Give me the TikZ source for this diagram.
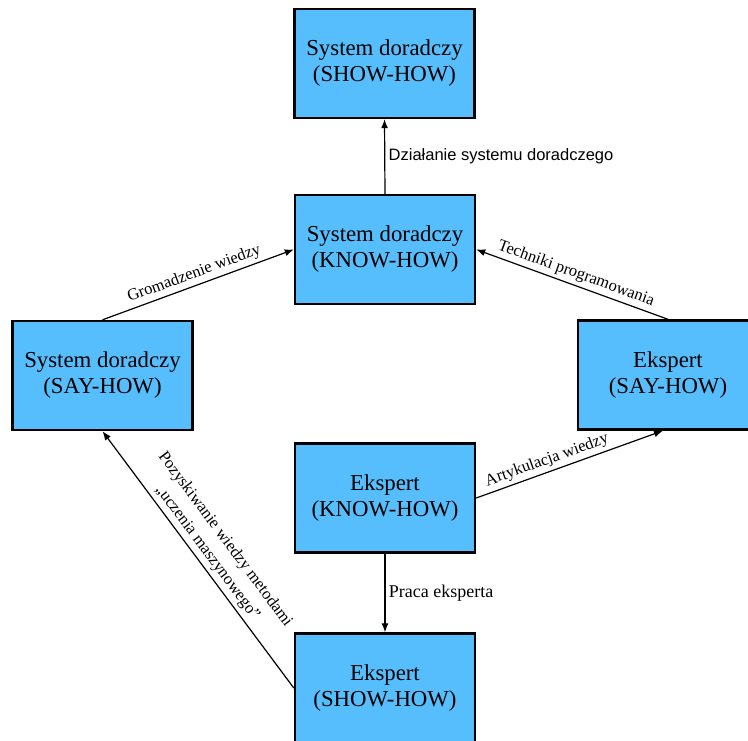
\documentclass[tikz,border=0pt]{standalone}
\usepackage{fontspec}
\setmainfont{Liberation Serif}
\newfontfamily\arialfont{Liberation Sans}
\usetikzlibrary{arrows.meta}
\definecolor{boxblue}{RGB}{86,190,252}
\begin{document}
\begin{tikzpicture}[x=1pt,y=-1pt]
        \clip (0,0) rectangle (748,740);
        \begin{scope}
            \tikzstyle{every node}=[fill=boxblue, draw=black, line width=2.4pt, rectangle, text=black, align=center, minimum width=180pt, minimum height=109pt, font=\fontsize{22.8}{26}\selectfont]
            \node (showsys) at (384.5,63.5) {System doradczy\\(SHOW-HOW)};
            \node (knowsys) at (385,249.5) {System doradczy\\(KNOW-HOW)};
            \node (saysys) at (102.5,375.5) {System doradczy\\(SAY-HOW)};
            \node (sayexp) at (668,375) {Ekspert\\(SAY-HOW)};
            \node (knowexp) at (385,498) {Ekspert\\(KNOW-HOW)};
            \node (showexp) at (385,688) {Ekspert\\(SHOW-HOW)};
        \end{scope}
        \begin{scope}
            \tikzstyle{every edge}=[draw, line width=1.2pt, -{Latex[length=9pt,width=7pt]}]
            \tikzstyle{every node}=[text=black, align=center, font=\fontsize{16.5}{22}\selectfont]
            \path
            (knowsys.north) edge[] node[right, font=\arialfont\fontsize{16.5}{20}\selectfont] {Działanie systemu doradczego} (showsys.south)
            (saysys.north) edge[] node[sloped, above] {Gromadzenie wiedzy} (knowsys.west)
            (sayexp.north) edge[] node[sloped, above] {Techniki programowania} (knowsys.east)
            (knowexp.east) edge[] node[sloped, above, pos=0.4] {Artykulacja wiedzy} ([xshift=-5pt]sayexp.south)
            (knowexp.south) edge[] node[right, font=\fontsize{18}{22}\selectfont] {Praca eksperta} (showexp.north)
            (showexp.west) edge[] node[sloped, above] {Pozyskiwanie wiedzy metodami\\„uczenia maszynowego”} (saysys.south);
        \end{scope}
\end{tikzpicture}
\end{document}
